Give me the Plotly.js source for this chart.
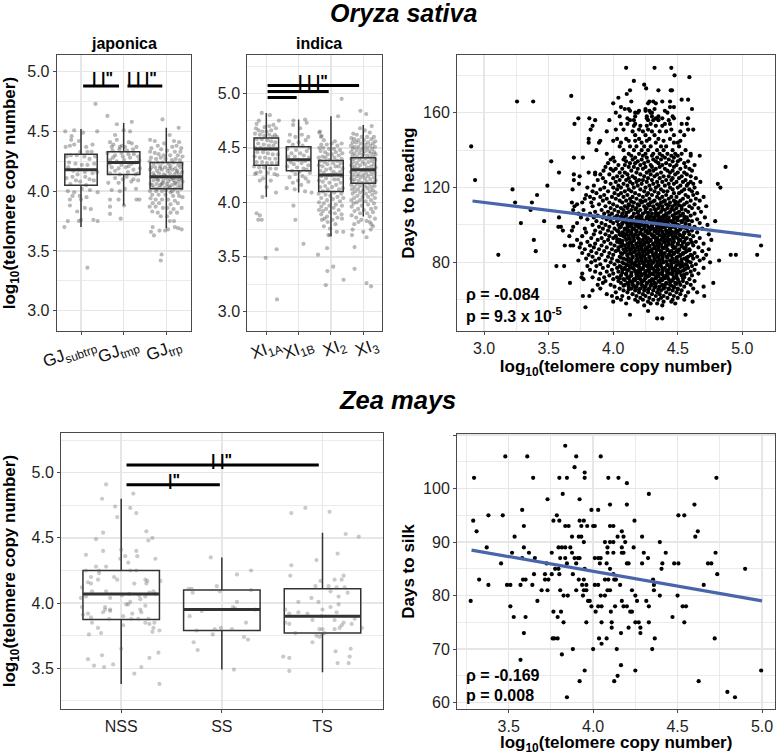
<!DOCTYPE html>
<html><head><meta charset="utf-8">
<script src="https://cdn.plot.ly/plotly-3.0.1.min.js"></script>
<style>html,body{margin:0;padding:0;background:#fff}</style></head>
<body><div id="chart" style="width:776px;height:754px"></div>
<script>
// Box summaries: q1, median, q3, lower whisker, upper whisker
const japonicaLabels=["GJ<sub>subtrp</sub>","GJ<sub>tmp</sub>","GJ<sub>trp</sub>"];
const japonicaQ1=[4.05,4.14,4.02], japonicaMed=[4.18,4.24,4.12], japonicaQ3=[4.31,4.33,4.24], japonicaLow=[3.70,3.88,3.69], japonicaUp=[4.52,4.57,4.53];
const indicaLabels=["XI<sub>1A</sub>","XI<sub>1B</sub>","XI<sub>2</sub>","XI<sub>3</sub>"];
const indicaQ1=[4.34,4.29,4.10,4.175], indicaMed=[4.49,4.39,4.25,4.30], indicaQ3=[4.59,4.51,4.385,4.41], indicaLow=[4.05,4.09,3.69,3.87], indicaUp=[4.82,4.76,4.79,4.71];
const maizeLabels=["NSS","SS","TS"];
const maizeQ1=[3.875,3.79,3.77], maizeMed=[4.07,3.95,3.90], maizeQ3=[4.25,4.10,4.11], maizeLow=[3.38,3.49,3.47], maizeUp=[4.80,4.35,4.54];

// Jittered samples: [horizontal jitter offset, log10 copy number]
const gjSubtrp=[[.34,4.73],[-.16,4.51],[-.37,4.50],[.05,4.49],[.38,4.50],[-.22,4.46],[-.23,4.43],[-.36,4.37],[-.26,4.38],[-.16,4.39],[-.02,4.33],[.15,4.33],[.25,4.33],[-.34,4.29],[-.24,4.30],[-.1,4.30],[.08,4.29],[-.13,4.23],[.02,4.22],[.15,4.22],[.31,4.23],[-.30,4.20],[-.06,4.18],[.09,4.16],[.27,4.15],[.38,4.16],[-.20,4.12],[-.34,4.11],[.20,4.10],[-.02,4.08],[.12,4.05],[-.12,4.09],[.3,4.09],[-.31,4.00],[-.16,3.99],[.02,4.02],[.21,4.01],[.39,3.99],[-.26,3.93],[0,3.93],[-.26,3.88],[-.09,3.83],[.09,3.86],[.23,3.85],[-.31,3.75],[-.05,3.75],[.29,3.76],[.39,3.75],[-.39,3.70],[0,3.76],[.15,3.36],[-.28,4.24],[-.18,4.17],[.2,4.27],[.33,4.29],[.1,4.12],[-.08,4.14],[-.25,4.06],[-.03,3.96],[.13,3.95],[-.2,3.96],[.27,4.39],[.12,4.37],[-.05,4.42]];
const gjTmp=[[-.38,4.63],[-.16,4.56],[.19,4.58],[0,4.51],[-.20,4.47],[.15,4.50],[-.32,4.41],[-.16,4.43],[-.28,4.37],[-.09,4.37],[.03,4.37],[.19,4.40],[.30,4.37],[-.38,4.32],[-.20,4.30],[-.05,4.32],[.11,4.31],[.24,4.31],[.34,4.29],[-.32,4.26],[-.16,4.25],[.01,4.26],[.19,4.23],[.37,4.26],[-.28,4.20],[-.12,4.19],[.05,4.20],[.23,4.18],[-.32,4.15],[-.09,4.14],[.34,4.15],[-.20,4.11],[.07,4.12],[.23,4.10],[.34,4.09],[-.36,4.07],[-.12,4.07],[.03,4.02],[.29,4.02],[-.28,4.01],[-.09,4.00],[-.32,3.93],[-.12,3.93],[.01,3.88],[.30,3.93],[-.32,3.87],[-.32,3.81],[-.07,3.77],[-.25,4.28],[-.02,4.29],[.15,4.28],[.28,4.24],[-.33,4.23],[-.05,4.22],[.12,4.21],[-.2,4.17],[.1,4.16],[.28,4.14],[.38,4.19],[-.26,4.34],[-.1,4.35],[.08,4.34],[-.04,4.38],[.12,4.41],[-.24,4.39],[.22,4.35],[.18,4.08],[-.02,4.1],[.37,3.93]];
const gjTrp=[[-.09,4.60],[.29,4.53],[.08,4.47],[.18,4.42],[.3,4.41],[-.38,4.43],[-.27,4.42],[-.2,4.38],[-.05,4.40],[.24,4.38],[.35,4.36],[.14,4.37],[-.35,4.36],[-.12,4.35],[.02,4.34],[.2,4.33],[.33,4.33],[-.38,4.33],[-.27,4.32],[-.18,4.31],[-.06,4.30],[.09,4.30],[.27,4.30],[.38,4.29],[-.36,4.28],[-.24,4.27],[-.13,4.28],[-.02,4.27],[.13,4.26],[.22,4.27],[.32,4.26],[-.39,4.25],[-.3,4.23],[-.2,4.24],[-.09,4.24],[.05,4.23],[.17,4.24],[.28,4.22],[.36,4.23],[-.35,4.2],[-.26,4.2],[-.14,4.21],[-.03,4.2],[.1,4.21],[.21,4.19],[.33,4.2],[-.38,4.18],[-.22,4.17],[-.1,4.18],[.03,4.17],[.14,4.18],[.26,4.17],[.37,4.16],[-.31,4.15],[-.17,4.15],[-.06,4.14],[.08,4.15],[.19,4.14],[.3,4.14],[-.36,4.12],[-.25,4.12],[-.12,4.12],[0,4.11],[.12,4.12],[.24,4.11],[.35,4.11],[-.3,4.09],[-.19,4.09],[-.07,4.09],[.05,4.08],[.17,4.09],[.28,4.08],[.38,4.08],[-.37,4.06],[-.23,4.06],[-.11,4.06],[.01,4.06],[.13,4.05],[.22,4.06],[.32,4.05],[-.3,4.03],[-.16,4.03],[-.04,4.03],[.08,4.03],[.2,4.02],[.35,4.02],[-.38,4.0],[-.24,4.0],[-.1,4.0],[.1,3.99],[.27,3.99],[-.33,3.97],[-.18,3.97],[-.02,3.97],[.16,3.96],[.3,3.96],[.38,3.95],[-.37,3.94],[-.25,3.93],[-.1,3.93],[.04,3.93],[.2,3.92],[-.32,3.9],[-.17,3.9],[.1,3.89],[.27,3.9],[-.39,3.87],[-.25,3.87],[-.08,3.86],[.03,3.86],[.17,3.85],[.36,3.86],[-.33,3.83],[-.2,3.82],[.1,3.82],[.25,3.82],[-.13,3.79],[.02,3.79],[.18,3.75],[.08,3.75],[-.32,3.70],[-.36,3.66],[-.29,3.63],[-.16,3.67],[-.03,3.67],[.04,3.68],[.2,3.70],[.28,3.69],[.36,3.68],[-.11,3.47],[-.13,3.42],[-.15,4.19],[.07,4.19],[.24,4.16],[-.28,4.13],[-.02,4.13],[.16,4.11],[-.21,4.1],[.09,4.1],[.31,4.1],[-.08,4.07],[.2,4.07],[-.33,4.05],[-.14,4.05],[.05,4.04],[.28,4.03],[-.22,4.02],[-.01,4.01],[.14,4.0]];
const xi1A=[[-.14,4.82],[.11,4.80],[.39,4.75],[-.3,4.72],[-.23,4.75],[.22,4.71],[.09,4.70],[-.05,4.69],[.3,4.68],[-.32,4.68],[-.24,4.66],[.15,4.66],[.01,4.65],[-.12,4.65],[.27,4.62],[-.35,4.63],[-.2,4.62],[-.06,4.61],[.09,4.62],[.2,4.6],[.33,4.6],[-.3,4.58],[-.14,4.58],[.03,4.57],[.15,4.56],[.28,4.55],[-.25,4.54],[-.08,4.53],[.08,4.52],[.22,4.52],[-.34,4.5],[-.18,4.5],[-.02,4.49],[.13,4.49],[.32,4.49],[-.28,4.46],[-.1,4.46],[.05,4.45],[.2,4.44],[.36,4.44],[-.36,4.42],[-.2,4.41],[-.04,4.41],[.1,4.4],[.28,4.4],[-.3,4.37],[-.13,4.37],[.02,4.36],[.17,4.36],[.33,4.36],[-.38,4.33],[-.22,4.32],[-.07,4.32],[.12,4.31],[.3,4.31],[-.35,4.26],[-.3,4.27],[-.18,4.28],[.05,4.27],[.25,4.26],[.34,4.25],[-.1,4.22],[.14,4.20],[-.2,4.2],[.01,4.14],[.3,4.09],[-.12,4.05],[-.3,3.90],[-.2,3.88],[-.25,3.84],[-.14,3.84],[.32,3.57],[-.02,3.49],[.33,3.11]];
const xi1B=[[-.16,4.75],[.2,4.76],[.25,4.73],[-.17,4.71],[.05,4.68],[-.27,4.62],[.1,4.62],[.3,4.6],[-.1,4.6],[.22,4.57],[-.3,4.56],[0,4.55],[-.18,4.53],[.12,4.52],[.33,4.5],[-.35,4.49],[-.08,4.48],[.25,4.47],[-.22,4.45],[.05,4.45],[.16,4.43],[-.32,4.42],[-.12,4.42],[.32,4.41],[-.02,4.39],[.2,4.38],[-.25,4.37],[.09,4.36],[-.15,4.35],[.3,4.34],[-.35,4.33],[-.05,4.32],[.15,4.31],[.25,4.3],[-.2,4.29],[.03,4.28],[.35,4.27],[-.1,4.26],[.12,4.24],[-.28,4.23],[.22,4.22],[-.02,4.2],[.3,4.19],[-.18,4.18],[.08,4.16],[-.37,4.13],[-.12,4.12],[.2,4.1],[.4,4.09],[-.16,3.97],[-.1,3.84],[.15,3.62]];
const xi2=[[.33,4.95],[.22,4.79],[-.34,4.65],[-.29,4.61],[-.36,4.64],[-.31,4.6],[-.22,4.57],[.12,4.56],[.33,4.54],[-.3,4.53],[-.13,4.53],[.02,4.54],[.2,4.52],[-.36,4.5],[-.24,4.5],[-.06,4.49],[.09,4.49],[.28,4.48],[-.32,4.47],[-.18,4.46],[.15,4.46],[.35,4.45],[-.1,4.44],[.03,4.44],[.24,4.43],[-.26,4.42],[-.38,4.41],[-.17,4.41],[.11,4.41],[.33,4.4],[-.05,4.39],[.19,4.38],[-.32,4.38],[-.2,4.37],[.3,4.36],[.07,4.36],[-.11,4.35],[-.37,4.34],[-.26,4.33],[.14,4.33],[.24,4.33],[.36,4.31],[-.02,4.31],[-.15,4.3],[-.33,4.29],[.08,4.28],[.28,4.28],[-.22,4.27],[.17,4.26],[-.08,4.25],[.02,4.25],[.33,4.24],[-.3,4.24],[-.15,4.22],[.22,4.21],[.1,4.21],[-.37,4.2],[-.25,4.19],[-.05,4.18],[.3,4.18],[.16,4.16],[-.18,4.15],[.04,4.14],[.37,4.13],[-.33,4.14],[-.1,4.12],[.25,4.12],[-.25,4.1],[.1,4.09],[.32,4.08],[-.38,4.08],[-.17,4.07],[-.02,4.06],[.2,4.05],[-.3,4.04],[.38,4.04],[.06,4.03],[-.12,4.02],[.28,4.01],[-.37,4.0],[-.22,3.99],[.15,3.98],[-.05,3.97],[.34,3.97],[-.3,3.96],[.08,3.95],[-.15,3.94],[.24,3.93],[-.37,3.93],[-.25,3.92],[-.03,3.91],[.12,3.9],[.33,3.89],[-.3,3.89],[-.12,3.87],[.2,3.86],[-.2,3.85],[.05,3.84],[.34,3.85],[-.28,3.84],[-.1,3.82],[.14,3.8],[-.03,3.76],[-.22,3.78],[.18,3.73],[.38,3.73],[-.08,3.70],[-.03,3.70],[-.12,3.58],[-.4,3.52],[.07,3.41],[-.11,3.37],[-.16,3.24],[.39,3.29]];
const xi3=[[-.09,4.84],[.09,4.81],[.26,4.70],[-.31,4.63],[-.1,4.68],[.05,4.66],[.2,4.64],[-.2,4.62],[.33,4.6],[-.05,4.6],[.12,4.6],[-.37,4.59],[-.28,4.58],[.25,4.58],[-.15,4.57],[.02,4.57],[.37,4.56],[-.33,4.55],[-.22,4.55],[.15,4.55],[.3,4.54],[-.08,4.54],[.07,4.53],[-.38,4.52],[.22,4.52],[-.27,4.51],[-.15,4.51],[.36,4.51],[0,4.5],[.12,4.5],[-.33,4.49],[.28,4.49],[-.2,4.48],[-.07,4.48],[.18,4.47],[.06,4.47],[-.38,4.46],[.34,4.46],[-.27,4.45],[-.12,4.45],[.24,4.45],[.38,4.44],[0,4.44],[-.33,4.43],[.12,4.43],[-.2,4.42],[.3,4.42],[-.06,4.41],[.2,4.41],[-.37,4.4],[-.27,4.4],[.07,4.4],[.37,4.39],[-.13,4.39],[.27,4.38],[-.32,4.37],[-.02,4.37],[.16,4.37],[-.2,4.36],[.33,4.35],[.05,4.35],[-.37,4.34],[-.1,4.34],[.24,4.33],[-.26,4.33],[.12,4.32],[.38,4.32],[-.33,4.31],[-.16,4.31],[.02,4.3],[.3,4.3],[-.06,4.29],[.2,4.29],[-.38,4.28],[-.25,4.28],[.09,4.27],[.35,4.27],[-.14,4.26],[.25,4.26],[-.32,4.25],[0,4.25],[.15,4.24],[-.2,4.24],[.33,4.23],[-.08,4.23],[-.37,4.22],[.05,4.22],[.22,4.21],[-.27,4.21],[.38,4.2],[-.14,4.2],[.1,4.19],[-.33,4.19],[.3,4.18],[-.03,4.18],[-.2,4.17],[.18,4.17],[-.37,4.16],[.05,4.15],[-.1,4.15],[.35,4.15],[.25,4.14],[-.27,4.14],[.13,4.13],[-.16,4.12],[-.35,4.12],[.3,4.11],[0,4.11],[.2,4.1],[-.25,4.1],[.38,4.09],[-.1,4.09],[.08,4.08],[-.33,4.08],[.28,4.07],[-.18,4.06],[.15,4.05],[-.02,4.05],[.36,4.04],[-.28,4.04],[-.37,4.02],[-.1,4.02],[.24,4.02],[.07,4.01],[-.2,4.0],[.33,3.99],[-.3,3.99],[.15,3.98],[-.05,3.97],[-.36,3.96],[.38,3.95],[.24,3.94],[-.16,3.94],[.02,3.93],[-.27,3.92],[.3,3.91],[-.1,3.9],[.12,3.9],[-.36,3.88],[.2,3.87],[-.22,3.86],[.36,3.85],[-.06,3.84],[.1,3.83],[-.15,3.82],[.2,3.82],[.25,3.8],[-.28,3.8],[.3,3.78],[-.33,3.75],[-.35,3.70],[.23,3.75],[0,3.73],[.1,3.68],[-.27,3.59],[-.27,3.39],[.1,3.26],[.24,3.23]];
const nss=[[-.15,4.91],[-.19,4.80],[.12,4.84],[-.06,4.74],[-.04,4.66],[.09,4.73],[.15,4.69],[-.18,4.54],[.25,4.55],[.31,4.50],[.27,4.48],[-.25,4.49],[-.35,4.37],[-.18,4.40],[0,4.41],[.04,4.36],[.15,4.40],[.16,4.36],[.34,4.34],[-.01,4.34],[.07,4.31],[-.15,4.28],[-.25,4.28],[-.35,4.25],[-.22,4.25],[-.22,4.23],[-.30,4.20],[-.07,4.20],[-.04,4.18],[-.23,4.18],[.09,4.25],[.15,4.25],[.24,4.18],[.26,4.17],[.39,4.17],[.25,4.15],[.13,4.15],[-.33,4.16],[-.30,4.15],[-.39,4.12],[-.29,4.09],[-.15,4.09],[.01,4.06],[.08,4.07],[.18,4.06],[.28,4.08],[.32,4.09],[.34,4.07],[-.40,4.04],[-.35,4.05],[-.11,4.04],[.09,4.01],[.19,4.03],[.24,4.05],[.07,3.99],[-.39,3.97],[-.16,3.97],[-.11,3.95],[-.16,3.95],[-.11,3.94],[.05,3.99],[.19,3.95],[.20,3.93],[.24,3.98],[-.33,3.92],[-.38,3.91],[-.18,3.93],[.11,3.92],[.02,3.90],[-.30,3.89],[-.12,3.88],[.10,3.88],[.17,3.88],[.27,3.88],[.24,3.85],[.28,3.84],[.33,3.85],[-.29,3.85],[.02,3.83],[-.23,3.81],[.32,3.81],[.38,3.79],[.31,3.78],[-.32,3.76],[-.20,3.77],[0,3.65],[.37,3.62],[.28,3.58],[-.33,3.57],[-.19,3.60],[-.08,3.53],[-.17,3.51],[-.27,3.52],[.20,3.51],[.13,3.46],[.38,3.38]];
const ss=[[-.11,4.35],[.29,4.25],[.15,4.22],[-.05,4.13],[-.33,4.11],[-.30,4.11],[-.29,4.08],[-.02,4.09],[.29,4.10],[.15,4.01],[.11,3.97],[-.20,3.94],[.33,3.95],[-.32,3.90],[.24,3.85],[-.25,3.79],[-.01,3.81],[-.07,3.80],[.10,3.80],[-.09,3.76],[.22,3.74],[.26,3.72],[-.28,3.70],[-.24,3.64],[.12,3.49],[.13,3.96]];
const ts=[[-.17,4.73],[-.31,4.69],[.07,4.70],[.23,4.53],[.36,4.51],[.15,4.38],[-.06,4.33],[-.31,4.29],[-.32,4.21],[.21,4.21],[.12,4.18],[.19,4.18],[-.02,4.17],[-.07,4.13],[.06,4.13],[.14,4.12],[.22,4.12],[.08,4.09],[.25,4.08],[.16,4.05],[-.11,4.04],[-.24,4.01],[-.04,4.01],[.16,3.99],[.08,3.97],[-.37,3.95],[0,3.95],[.14,3.93],[-.24,3.93],[-.33,3.92],[-.15,3.92],[-.01,3.90],[.32,3.88],[-.10,3.87],[-.37,3.85],[.12,3.87],[.29,3.84],[-.33,3.84],[.21,3.85],[.19,3.83],[.17,3.81],[.39,3.81],[.12,3.80],[-.03,3.80],[0,3.80],[-.27,3.77],[.02,3.77],[-.06,3.75],[-.03,3.74],[-.01,3.76],[-.10,3.70],[.28,3.65],[.13,3.63],[-.39,3.59],[-.33,3.58],[.27,3.59],[.15,3.54],[.26,3.54],[-.33,3.48]];

// Rice phenology: [days to heading, [log10 copy numbers]]
const headingRows=[
[184,[4.10,4.32,4.45]],[180,[4.475]],[179,[4.59]],[177,[4.16]],[175,[4.24]],[173,[4.255]],[172,[4.13,4.35,4.445,4.455]],[170,[4.105]],[169,[3.675]],[168,[4.04]],[167,[4.53,4.58]],
[166,[3.255,3.38,4.14,4.28,4.31,4.38,4.44]],[165,[4.00,4.27,4.33]],[163,[4.06,4.44,4.47]],[162,[4.09,4.12,4.25,4.32,4.61]],[161,[4.13,4.20,4.25,4.28,4.40]],[160,[4.02,4.17,4.19,4.29,4.30,4.42]],
[158,[4.05,4.17,4.26,4.30,4.35,4.46]],[157,[3.73,3.815,4.11,4.26,4.33,4.38,4.47,4.58]],[156,[3.86,3.97,4.13,4.16,4.27,4.31,4.35,4.43]],[154,[3.70,4.06,4.11,4.17,4.29,4.40,4.44,4.53,4.57]],[153,[3.84,4.16,4.21,4.26,4.33,4.38]],
[151,[3.825,4.02,4.08,4.20,4.27,4.45,4.58,4.62]],[150,[3.95,4.15,4.23,4.30,4.36,4.41,4.52]],[148,[4.17,4.25,4.32,4.47,4.55]],[146,[3.81,4.03,4.10,4.20,4.28,4.35,4.44]],[145,[3.90,4.00,4.12,4.17,4.26,4.39,4.52]],
[144,[3.81,3.89,4.06,4.22,4.33,4.47,4.50]],[142,[2.90,4.05,4.13,4.18,4.24,4.29,4.37,4.41,4.51]],[140,[3.87,4.08,4.16,4.22,4.27,4.34,4.39,4.46,4.56]],[138,[3.95,4.12,4.20,4.25,4.31,4.36,4.42,4.48,4.53,4.60]],
[137,[4.14,4.23,4.30,4.38,4.45,4.50,4.60,4.67]],[136,[3.695,3.765,4.00,4.09,4.17,4.26,4.34,4.40,4.47]],
[135,[3.98,4.08,4.15,4.22,4.31,4.37,4.43,4.52]],[134,[3.52,4.01,4.10,4.19,4.27,4.33,4.46,4.50,4.58]],[133,[3.96,4.13,4.17,4.24,4.35,4.41,4.55]],[132,[4.04,4.09,4.21,4.29,4.38,4.44,4.49,4.63]],[131,[4.87,3.94,4.12,4.16,4.25,4.30,4.36,4.47,4.56]],[130,[3.98,4.02,4.07,4.19,4.23,4.33,4.40,4.52,4.59]],
[129,[3.925,4.00,4.14,4.28,4.31,4.42,4.46,4.61]],[128,[3.58,3.81,3.86,4.05,4.09,4.18,4.26,4.37,4.44,4.50,4.55]],[127,[3.695,3.86,3.90,3.97,4.11,4.21,4.29,4.34,4.48,4.57]],[126,[3.74,4.03,4.07,4.15,4.24,4.32,4.39,4.43,4.53,4.60]],[125,[3.92,4.00,4.12,4.17,4.27,4.36,4.46,4.51,4.64]],
[124,[2.93,3.695,3.88,4.05,4.10,4.20,4.23,4.30,4.41,4.45,4.56]],[123,[4.675,3.94,4.02,4.13,4.18,4.26,4.34,4.38,4.49,4.54,4.60]],[122,[3.735,4.81,3.98,4.08,4.15,4.22,4.31,4.43,4.47,4.58,4.62]],[121,[3.49,3.85,4.04,4.11,4.19,4.28,4.35,4.40,4.52,4.57]],[120,[3.80,4.83,3.93,4.00,4.06,4.16,4.25,4.33,4.44,4.50,4.63]],
[119,[3.22,3.685,3.90,4.03,4.12,4.21,4.29,4.37,4.46,4.55,4.59]],[118,[3.84,3.96,4.09,4.14,4.24,4.32,4.39,4.42,4.53,4.61]],[117,[3.87,4.01,4.06,4.17,4.27,4.35,4.47,4.51,4.65]],[116,[3.41,3.79,3.93,4.04,4.11,4.20,4.26,4.30,4.41,4.56,4.62]],[115,[3.82,3.90,3.99,4.08,4.15,4.23,4.34,4.38,4.45,4.49,4.58,4.70]],
[114,[3.78,3.85,3.95,4.02,4.13,4.18,4.28,4.36,4.43,4.54,4.64]],[113,[3.92,4.05,4.10,4.21,4.25,4.32,4.40,4.47,4.52,4.60,4.67]],[112,[3.24,3.37,3.68,3.76,3.83,3.97,4.07,4.16,4.22,4.29,4.37,4.44,4.50,4.57]],[111,[3.72,3.89,4.00,4.12,4.19,4.27,4.34,4.41,4.48,4.55,4.63]],[110,[3.70,3.84,3.94,4.03,4.09,4.15,4.24,4.31,4.38,4.46,4.53,4.59,4.72]],
[109,[3.98,4.06,4.11,4.18,4.26,4.35,4.42,4.49,4.61,4.66]],[108,[3.36,3.69,3.77,3.91,4.01,4.08,4.14,4.21,4.29,4.33,4.40,4.47,4.56]],[107,[3.86,3.96,4.04,4.12,4.19,4.25,4.37,4.44,4.51,4.58,4.68]],[106,[3.73,3.82,3.93,3.99,4.07,4.16,4.23,4.30,4.35,4.41,4.48,4.54,4.63]],[105,[3.88,3.97,4.03,4.10,4.20,4.27,4.33,4.39,4.46,4.52,4.60]],
[104,[3.58,3.75,3.85,3.92,4.01,4.08,4.14,4.18,4.26,4.31,4.37,4.43,4.50,4.57,4.71]],[103,[3.80,3.95,4.05,4.11,4.22,4.28,4.35,4.42,4.47,4.55,4.65]],[102,[3.465,4.79,3.87,3.98,4.03,4.09,4.16,4.24,4.29,4.34,4.40,4.45,4.53,4.61]],[101,[3.285,3.72,3.91,4.00,4.07,4.13,4.19,4.25,4.32,4.38,4.48,4.56,4.67]],[100,[3.84,3.94,4.04,4.11,4.17,4.22,4.30,4.36,4.43,4.50,4.59,4.73]],
[99,[3.575,3.595,3.69,3.89,3.97,4.06,4.14,4.20,4.27,4.34,4.39,4.46,4.54,4.63]],[98,[3.78,3.92,4.01,4.09,4.16,4.24,4.31,4.37,4.44,4.52,4.57,4.69]],[97,[3.61,3.68,3.86,3.96,4.03,4.12,4.18,4.26,4.33,4.41,4.49,4.61]],[96,[3.79,3.90,3.99,4.07,4.14,4.21,4.28,4.35,4.43,4.47,4.55,4.65]],[95,[3.85,3.94,4.05,4.10,4.17,4.23,4.30,4.38,4.45,4.51,4.59,4.74]],
[94,[3.66,3.76,3.97,4.02,4.08,4.15,4.25,4.32,4.40,4.48,4.54,4.62]],[93,[3.83,3.91,4.00,4.12,4.19,4.27,4.34,4.42,4.50,4.57,4.67]],[92,[3.385,3.72,3.88,3.96,4.05,4.10,4.16,4.23,4.29,4.37,4.44,4.52,4.60,4.76]],[91,[3.80,3.93,4.03,4.13,4.20,4.26,4.33,4.39,4.47,4.55,4.64]],[90,[3.75,3.86,3.98,4.07,4.11,4.18,4.24,4.31,4.36,4.43,4.50,4.58,4.70]],
[89,[3.625,3.67,3.69,3.82,3.91,4.01,4.09,4.15,4.21,4.28,4.34,4.41,4.46,4.53,4.62,5.145]],[88,[3.74,3.85,3.95,4.04,4.12,4.19,4.26,4.32,4.38,4.48,4.56,4.66]],[87,[3.78,3.89,3.99,4.08,4.14,4.22,4.30,4.35,4.42,4.51,4.59,4.74]],[86,[3.40,3.83,3.93,4.02,4.10,4.17,4.24,4.29,4.37,4.45,4.49,4.57,4.69]],[85,[3.76,3.87,3.97,4.06,4.13,4.20,4.27,4.33,4.40,4.47,4.54,4.63]],
[84,[3.11,4.91,4.95,5.115,3.81,3.91,4.00,4.11,4.18,4.23,4.31,4.36,4.43,4.52,4.60,4.72]],[83,[3.84,3.96,4.05,4.15,4.21,4.28,4.34,4.41,4.50,4.58,4.65]],[82,[3.79,3.89,3.99,4.08,4.12,4.19,4.25,4.32,4.38,4.46,4.55,4.62,4.70]],[81,[4.82,3.73,3.86,3.94,4.03,4.14,4.22,4.29,4.36,4.44,4.49,4.57,4.67]],[80,[3.83,3.98,4.07,4.17,4.24,4.31,4.39,4.47,4.53,4.60,4.75]],
[79,[3.90,4.01,4.10,4.16,4.20,4.27,4.34,4.42,4.51,4.56,4.64]],[78,[3.56,3.62,3.80,3.87,3.96,4.05,4.13,4.19,4.26,4.33,4.37,4.45,4.54,4.61]],[77,[3.92,4.03,4.09,4.15,4.23,4.30,4.40,4.48,4.58,4.70]],[76,[3.82,3.99,4.07,4.12,4.21,4.28,4.35,4.43,4.50,4.55,4.63]],[75,[3.86,3.95,4.04,4.17,4.25,4.32,4.38,4.46,4.52,4.60]],
[74,[3.76,3.90,4.00,4.10,4.19,4.24,4.30,4.36,4.44,4.49,4.57,4.66]],[73,[3.97,4.06,4.14,4.22,4.28,4.34,4.41,4.53,4.61]],[72,[3.755,3.84,3.93,4.03,4.11,4.18,4.25,4.33,4.39,4.47,4.55]],[71,[3.77,3.89,4.00,4.08,4.16,4.21,4.30,4.37,4.43,4.50,4.59]],[70,[3.94,4.04,4.13,4.23,4.28,4.35,4.45,4.54,4.63]],
[69,[3.665,4.775,3.92,4.06,4.11,4.19,4.26,4.32,4.41,4.48,4.57]],[68,[3.88,3.98,4.09,4.15,4.22,4.30,4.38,4.44,4.52,4.60]],[67,[4.01,4.12,4.18,4.25,4.33,4.36,4.47,4.55,4.70]],[66,[3.90,4.05,4.14,4.21,4.28,4.39,4.43,4.50,4.62]],[65,[3.84,4.08,4.17,4.24,4.31,4.37,4.46,4.53]],
[64,[4.02,4.11,4.20,4.27,4.34,4.41,4.49,4.58,4.65]],[63,[3.95,4.15,4.23,4.30,4.36,4.44,4.52]],[62,[3.765,3.815,3.99,4.07,4.18,4.25,4.33,4.39,4.47,4.56,4.705]],[61,[4.03,4.12,4.21,4.28,4.37,4.42,4.50]],[60,[4.06,4.17,4.23,4.31,4.35,4.46,4.55]],
[59,[4.00,4.19,4.27,4.39,4.45,4.615]],[58,[4.10,4.29,4.34,4.48]],[57,[4.24,4.38]],[56,[3.785]],[54,[4.27]],[52,[4.13,4.56]],[50,[4.34,4.38]]];
// The nearly solid centre of the rice cloud
const headingCoreRows=[[112.5,[4.14,4.23,4.31,4.39,4.48]],[110.5,[4.12,4.20,4.28,4.36,4.43,4.51]],[108.5,[4.17,4.25,4.32,4.38,4.45,4.53]],[106.5,[4.10,4.19,4.27,4.33,4.43,4.50]],[104.5,[4.06,4.15,4.22,4.29,4.35,4.41,4.47,4.55]],[103.5,[4.13,4.20,4.26,4.32,4.39,4.49]],[102.5,[4.08,4.18,4.23,4.31,4.37,4.43,4.50,4.58]],[101.5,[4.10,4.16,4.28,4.35,4.42,4.46,4.53]],[100.5,[4.07,4.14,4.20,4.26,4.33,4.39,4.47,4.56]],[99.5,[4.12,4.18,4.24,4.30,4.37,4.42,4.51]],[98.5,[4.05,4.11,4.20,4.28,4.34,4.40,4.48,4.55]],[97.5,[4.09,4.15,4.22,4.29,4.36,4.44,4.52]],[96.5,[4.04,4.11,4.18,4.25,4.32,4.38,4.45,4.50,4.58]],[95.5,[4.08,4.14,4.21,4.27,4.34,4.41,4.48,4.55]],[94.5,[4.06,4.12,4.19,4.23,4.30,4.36,4.43,4.52]],[93.5,[4.09,4.16,4.24,4.31,4.38,4.46,4.54]],[92.5,[4.03,4.13,4.20,4.26,4.33,4.40,4.47,4.56]],[91.5,[4.07,4.16,4.23,4.29,4.35,4.42,4.51]],[90.5,[4.05,4.14,4.21,4.27,4.34,4.40,4.46,4.54,4.61]],[89.5,[4.12,4.18,4.24,4.31,4.37,4.43,4.50,4.57]],[88.5,[4.06,4.15,4.22,4.28,4.35,4.41,4.46,4.53]],[87.5,[4.10,4.17,4.25,4.32,4.39,4.47,4.55]],[86.5,[4.04,4.13,4.20,4.27,4.34,4.42,4.51,4.59]],[85.5,[4.09,4.16,4.23,4.30,4.37,4.44,4.50,4.56]],[84.5,[4.07,4.14,4.20,4.26,4.33,4.39,4.47,4.54]],[83.5,[4.11,4.18,4.24,4.31,4.38,4.45,4.52,4.61]],[82.5,[4.06,4.15,4.22,4.28,4.35,4.42,4.49,4.57]],[81.5,[4.10,4.18,4.25,4.32,4.38,4.46,4.53]],[80.5,[4.04,4.12,4.20,4.27,4.34,4.41,4.50,4.58]],[79.5,[4.08,4.14,4.23,4.30,4.37,4.45,4.53]],[78.5,[4.11,4.17,4.24,4.29,4.35,4.42,4.49,4.57]],[77.5,[4.06,4.13,4.20,4.27,4.34,4.44,4.52]],[76.5,[4.09,4.16,4.23,4.31,4.38,4.46,4.56]],[75.5,[4.11,4.19,4.26,4.33,4.41,4.48,4.54]],[74.5,[4.07,4.14,4.21,4.28,4.34,4.42,4.51]],[73.5,[4.10,4.18,4.25,4.31,4.38,4.46,4.55]],[72.5,[4.13,4.20,4.27,4.35,4.42,4.49]],[71.5,[4.05,4.12,4.19,4.25,4.33,4.40,4.47,4.54]],[70.5,[4.09,4.17,4.24,4.31,4.38,4.46]],[69.5,[4.15,4.22,4.29,4.36,4.44,4.51]],[68.5,[4.12,4.19,4.26,4.33,4.41,4.49]],[67.5,[4.08,4.16,4.23,4.29,4.39,4.45]],[66.5,[4.17,4.24,4.32,4.40,4.47]],[65.5,[4.12,4.20,4.27,4.35,4.43,4.50]]];
// Maize phenology: [days to silk, [log10 copy numbers]]
const silkRows=[[108,[3.835]],[106,[3.48,3.61,3.90,4.045]],[104,[3.89]],[103,[3.95]],[102,[3.295,3.645,3.80,3.845,3.95,4.09,4.15,4.73]],[101,[4.20]],[99,[3.82,4.33]],[98,[3.73,3.92]],[97,[4.10,4.20,4.60]],[96,[3.58,3.99,4.03]],[95,[3.38,3.465,3.785,4.505,4.54]],[94,[3.29,3.765,3.80,3.92,3.945,4.245]],[93,[3.59,3.835,3.855,3.93,3.965,4.00,4.01,4.10,4.12]],[92,[3.31,4.17,4.62]],[91,[3.535,3.875,3.915,3.93,4.145,4.18,4.29,4.605]],[90,[3.945,4.07,4.10,4.12,4.19,4.395]],[89,[3.37,3.59,3.795,3.815,3.835,3.865,4.085,4.17,4.24]],[88,[3.52,3.62,3.755,3.875,4.085,4.12,4.17,4.18,4.30,4.43,4.725]],[87,[3.58,3.655,3.805,3.835,3.89,3.91,3.92,4.01,4.03,4.045,4.325]],[86,[3.455,3.725,3.845,3.90,4.04,4.08,4.20,4.21,4.29,4.41,4.48,4.505,4.68,4.70]],[85,[3.775,3.795,3.95,4.10,4.405,4.90]],[84,[3.65,3.715,3.755,3.80,3.88,4.12,4.735]],[83,[3.325,3.585,3.60,3.715,3.735,3.915,3.945,4.07,4.09,4.125,4.135,4.355]],[82,[3.38,3.49,3.51,3.57,3.64,3.935,3.96,4.01,4.03,4.16,4.36,4.655]],[81,[3.695,3.73,3.805,3.90,3.945,3.96,4.085,4.10,4.23,4.36]],[80,[3.825,3.85,3.94,4.045,4.07,4.25,4.395,4.50]],[79,[3.275,3.67,3.97,3.98,4.17,4.26,4.315]],[78,[3.51,3.99,4.03,4.05,4.13,4.18,4.20,4.33,4.53,4.55]],[77,[3.765,3.81,4.015,4.105,4.22,4.23]],[76,[3.53,3.60,3.79,4.47]],[75,[3.825,3.96,4.05,4.11,4.25,4.27,4.33,4.54]],[74,[4.11,4.21,4.28]],[73,[3.59,4.165,4.28]],[72,[3.76,3.77,3.79,4.035,4.08,4.365,4.72]],[71,[4.05]],[70,[3.88,4.00,4.14,4.35]],[69,[3.815]],[68,[3.57]],[67,[4.165]],[66,[3.95,4.25,4.995]],[65,[4.145]],[64,[3.92,4.125,4.625]],[62,[4.795]],[61,[3.845,4.84]]];
// Fitted trend lines, read at their two ends
const headingFitX=[2.91,5.145], headingFitY=[112.8,93.9];
const silkFitX=[3.28,5.0], silkFitY=[88.5,79.0];
// Significance brackets: [from, to, height]
const japonicaBars=[[.05,.89,4.88],[1.09,1.906,4.88]];
const indicaBars=[[.04,2.87,5.073],[.04,1.93,5.018],[.04,.94,4.963]];
const maizeBars=[[.053,1.963,5.059],[.053,.98,4.908]];

const W=776,H=754;
const FONT='"Liberation Sans", Helvetica, Arial, sans-serif';
const INK='#1f1f1f', GRID='#e6e6e6', BORDER='#4a4a4a', BLUE='#4a66ab';
const LOG='log<sub>10</sub>(telomere copy number)';
const domX=(a,b)=>[a/W,b/W], domY=(a,b)=>[1-b/H,1-a/H];

function baseAxis(extra){
  return Object.assign({showline:true,mirror:true,linecolor:BORDER,linewidth:1,ticks:'outside',ticklen:3,tickcolor:BORDER,tickwidth:1,
    showgrid:true,gridcolor:GRID,gridwidth:1.4,zeroline:false,tickfont:{family:FONT,size:16,color:INK},
    automargin:false},extra);
}
function minor(d){return {dtick:d,showgrid:true,gridcolor:GRID,gridwidth:.8,ticks:''};}

const traces=[];
function boxPanel(n,groups,q1,med,q3,lo,hi,bars,ptColor){
  const xa=n===1?'x':'x'+n, ya=n===1?'y':'y'+n;
  groups.forEach((g,i)=>{
    traces.push({type:'scatter',mode:'markers',xaxis:xa,yaxis:ya,x:g.map(p=>i+p[0]),y:g.map(p=>p[1]),hoverinfo:'skip',showlegend:false,
      marker:{size:4.2,color:ptColor,line:{width:0}}});
  });
  groups.forEach((g,i)=>{
    traces.push({type:'box',xaxis:xa,yaxis:ya,x:[i],q1:[q1[i]],median:[med[i]],q3:[q3[i]],lowerfence:[lo[i]],upperfence:[hi[i]],
      width:.76,whiskerwidth:0,fillcolor:'rgba(0,0,0,0)',line:{color:'#333',width:1.5},boxpoints:false,showlegend:false});
    traces.push({type:'scatter',mode:'lines',xaxis:xa,yaxis:ya,x:[i-.38,i+.38],y:[med[i],med[i]],line:{color:'#333',width:3},hoverinfo:'skip',showlegend:false});
  });
  bars.forEach(b=>traces.push({type:'scatter',mode:'lines',xaxis:xa,yaxis:ya,x:[b[0],b[1]],y:[b[2],b[2]],line:{color:'#000',width:3},hoverinfo:'skip',showlegend:false}));
}
function scatterPanel(n,rows,fitX,fitY){
  const xs=[],ys=[];
  rows.forEach(r=>r[1].forEach(v=>{xs.push(v);ys.push(r[0]);}));
  traces.push({type:'scatter',mode:'markers',xaxis:'x'+n,yaxis:'y'+n,x:xs,y:ys,marker:{size:4.2,color:'#000',line:{width:0}},hoverinfo:'skip',showlegend:false});
  traces.push({type:'scatter',mode:'lines',xaxis:'x'+n,yaxis:'y'+n,x:fitX,y:fitY,line:{color:BLUE,width:3.2},hoverinfo:'skip',showlegend:false});
}
const PTC='rgba(60,60,60,.36)';
boxPanel(1,[gjSubtrp,gjTmp,gjTrp],japonicaQ1,japonicaMed,japonicaQ3,japonicaLow,japonicaUp,japonicaBars,PTC);
boxPanel(2,[xi1A,xi1B,xi2,xi3],indicaQ1,indicaMed,indicaQ3,indicaLow,indicaUp,indicaBars,PTC);
scatterPanel(3,headingRows.concat(headingCoreRows),headingFitX,headingFitY);
boxPanel(4,[nss,ss,ts],maizeQ1,maizeMed,maizeQ3,maizeLow,maizeUp,maizeBars,'rgba(90,90,90,.32)');
scatterPanel(5,silkRows,silkFitX,silkFitY);

const titleFont={family:FONT,size:17,color:'#000',weight:700};
const yBox={tickmode:'array',tickvals:[3,3.5,4,4.5,5],ticktext:['3.0','3.5','4.0','4.5','5.0'],minor:minor(.25)};
const rotTick={tickangle:-20,ticklabelshift:13,ticklabelstandoff:-6,tickfont:{family:FONT,size:17,color:'#111'}};
const note=(x,y,text,size,anchor)=>({xref:'paper',yref:'paper',x:x/W,y:1-y/H,xanchor:anchor||'center',yanchor:'middle',showarrow:false,text:text,font:{family:FONT,size:size,color:'#000'}});
const star=(xr,yr,x,y,text)=>({xref:xr,yref:yr,x:x,y:y,xanchor:'left',yanchor:'middle',showarrow:false,text:'<b>'+text+'</b>',font:{family:FONT,size:16,color:'#000'}});
const layout={width:W,height:H,margin:{l:0,r:0,t:0,b:0},paper_bgcolor:'#fff',plot_bgcolor:'#fff',showlegend:false,font:{family:FONT,color:INK},
  xaxis:baseAxis(Object.assign({anchor:'y',domain:domX(56.7,191.3),range:[-.57,2.586],tickmode:'array',tickvals:[0,1,2],ticktext:japonicaLabels},rotTick)),
  yaxis:baseAxis(Object.assign({anchor:'x',domain:domY(55.3,331),range:[2.83,5.137],title:{text:LOG,font:titleFont,standoff:7}},yBox)),
  xaxis2:baseAxis(Object.assign({anchor:'y2',domain:domX(247.3,382.3),range:[-.588,3.588],tickmode:'array',tickvals:[0,1,2,3],ticktext:indicaLabels},rotTick)),
  yaxis2:baseAxis(Object.assign({anchor:'x2',domain:domY(55.3,331),range:[2.82,5.349]},yBox)),
  xaxis3:baseAxis({anchor:'y3',domain:domX(457,775),range:[2.79,5.253],tickmode:'array',tickvals:[3,3.5,4,4.5,5],ticktext:['3.0','3.5','4.0','4.5','5.0'],minor:minor(.25),title:{text:LOG,font:titleFont,standoff:2}}),
  yaxis3:baseAxis({anchor:'x3',domain:domY(55.3,331),range:[43.3,190.7],tickmode:'array',tickvals:[80,120,160],minor:minor(20),title:{text:'Days to heading',font:titleFont,standoff:4}}),
  xaxis4:baseAxis({anchor:'y4',domain:domX(61,383.3),range:[-.598,2.604],tickmode:'array',tickvals:[0,1,2],ticktext:maizeLabels}),
  yaxis4:baseAxis({anchor:'x4',domain:domY(433.3,709),range:[3.188,5.302],tickmode:'array',tickvals:[3.5,4,4.5,5],ticktext:['3.5','4.0','4.5','5.0'],minor:minor(.25),title:{text:LOG,font:titleFont,standoff:11}}),
  xaxis5:baseAxis({anchor:'y5',domain:domX(457,775),range:[3.194,5.077],tickmode:'array',tickvals:[3.5,4,4.5,5],ticktext:['3.5','4.0','4.5','5.0'],minor:minor(.25)}),
  yaxis5:baseAxis({anchor:'x5',domain:domY(434,709),range:[58.8,110.2],tickmode:'array',tickvals:[60,70,80,90,100,110],ticktext:['60','70','80','90','100',''],minor:minor(5),title:{text:'Days to silk',font:titleFont,standoff:4}}),
  annotations:[
    note(403,13,'<b><i>Oryza sativa</i></b>',25),
    note(397.5,400,'<b><i>Zea mays</i></b>',25.5),
    note(124,44,'<b>japonica</b>',16),
    note(319,44,'<b>indica</b>',16),
    note(464,295,'<b>ρ = -0.084</b>',16,'left'),
    note(464,315,'<b>p = 9.3 x 10<sup>-5</sup></b>',16,'left'),
    note(464,675,'<b>ρ = -0.169</b>',16,'left'),
    note(464,695,'<b>p = 0.008</b>',16,'left'),
    note(616,744,'<b>'+LOG+'</b>',17),
    star('x','y',.21,4.94,'| |"'),
    star('x','y',1.02,4.94,'| | |"'),
    star('x2','y2',.92,5.105,'| | |"'),
    star('x4','y4',.875,5.09,'| |"'),
    star('x4','y4',.45,4.94,'|"')
  ]
};
Plotly.newPlot('chart',traces,layout,{displayModeBar:false,staticPlot:true});
</script></body></html>
